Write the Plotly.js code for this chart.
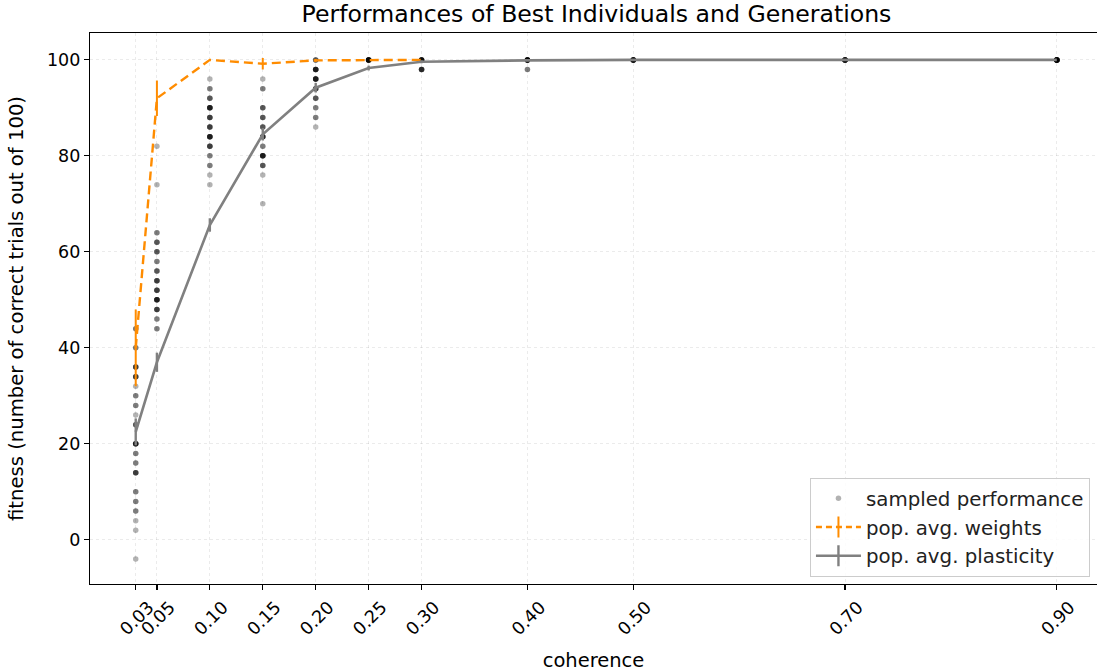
<!DOCTYPE html>
<html>
<head>
<meta charset="utf-8">
<script src="https://cdn.plot.ly/plotly-3.0.1.min.js"></script>
<style>html,body{margin:0;padding:0;background:#fff;}#chart{width:1097px;height:672px;}</style>
</head>
<body>
<div id="chart"></div>
<script>
// ---- data ----
const coherence = [0.03, 0.05, 0.10, 0.15, 0.20, 0.25, 0.30, 0.40, 0.50, 0.70, 0.90];
const tickLabels = ['0.03', '0.05', '0.10', '0.15', '0.20', '0.25', '0.30', '0.40', '0.50', '0.70', '0.90'];
const plasticityMean = [22.5, 37, 65.6, 84.5, 94.2, 98.3, 99.6, 99.9, 100, 100, 100];
const plasticityErr = [2.8, 2.0, 1.4, 1.3, 1.0, 0.5, 0.3, 0.1, 0, 0, 0];
const weightsCoherence = [0.03, 0.05, 0.10, 0.15, 0.20, 0.25, 0.30];
const weightsMean = [40, 92, 100, 99.2, 99.9, 100, 100];
const weightsErr = [8, 3.7, 0, 1.2, 0.3, 0, 0];
// sampled performances: coherence, fitness, number of individuals with that value
const sampleCoherence = [
  0.03,0.03,0.03,0.03,0.03,0.03,0.03,0.03,0.03,0.03,0.03,0.03,0.03,0.03,0.03,0.03,0.03,0.03,0.03,
  0.05,0.05,0.05,0.05,0.05,0.05,0.05,0.05,0.05,0.05,0.05,0.05,0.05,
  0.10,0.10,0.10,0.10,0.10,0.10,0.10,0.10,0.10,0.10,0.10,0.10,
  0.15,0.15,0.15,0.15,0.15,0.15,0.15,0.15,0.15,0.15,0.15,
  0.20,0.20,0.20,0.20,0.20,0.20,0.20,0.20,
  0.25,
  0.30,0.30,
  0.40,0.40,
  0.50,
  0.70,
  0.90
];
const sampleFitness = [
  44,40,36,34,32,30,28,26,24,20,18,16,14,10,8,6,4,2,-4,
  82,74,64,62,60,58,56,54,52,50,48,46,44,
  96,94,92,90,88,86,84,82,80,78,76,74,
  96,94,90,88,86,84,82,80,78,76,70,
  100,98,96,94,92,90,88,86,
  100,
  100,98,
  100,98,
  100,
  100,
  100
];
const sampleCount = [
  2,2,4,4,1,2,2,1,3,6,2,2,4,2,2,2,1,1,1,
  1,1,2,3,3,2,3,4,4,6,4,2,2,
  1,2,3,6,4,4,6,4,2,2,1,1,
  1,2,3,3,3,5,2,6,3,1,1,
  3,6,6,4,3,2,2,1,
  10,
  8,5,
  10,2,
  10,
  10,
  15
];

// expand the samples (overlapping translucent dots)
const sx = [], sy = [];
for (let i = 0; i < sampleFitness.length; i++) {
  for (let k = 0; k < sampleCount[i]; k++) { sx.push(sampleCoherence[i]); sy.push(sampleFitness[i]); }
}

const FONT = 'DejaVu Sans, sans-serif';
const ORANGE = '#ff8c00';
const GREY = '#808080';

const traces = [
  {
    type: 'scatter', mode: 'markers', x: sx, y: sy,
    name: 'sampled performance',
    marker: {color: 'rgba(0,0,0,0.3)', size: 5.5, line: {width: 0}},
    hoverinfo: 'x+y'
  },
  {
    type: 'scatter', mode: 'lines', x: weightsCoherence, y: weightsMean,
    name: 'pop. avg. weights', showlegend: false,
    line: {color: ORANGE, width: 2.4, dash: '9px,5px'},
    error_y: {type: 'data', array: weightsErr, visible: true, color: ORANGE, thickness: 2, width: 0}
  },
  {
    type: 'scatter', mode: 'lines', x: coherence, y: plasticityMean,
    name: 'pop. avg. plasticity', showlegend: false,
    line: {color: GREY, width: 2.6},
    error_y: {type: 'data', array: plasticityErr, visible: true, color: GREY, thickness: 2.4, width: 0}
  },
  // legend entries (line + vertical error-bar glyph)
  {
    type: 'scatter', mode: 'lines+markers', x: [null], y: [null],
    name: 'pop. avg. weights',
    line: {color: ORANGE, width: 2.4, dash: '6px,4px'},
    marker: {symbol: 'line-ns-open', size: 15, color: ORANGE, line: {color: ORANGE, width: 2}}
  },
  {
    type: 'scatter', mode: 'lines+markers', x: [null], y: [null],
    name: 'pop. avg. plasticity',
    line: {color: GREY, width: 2.6},
    marker: {symbol: 'line-ns-open', size: 15, color: GREY, line: {color: GREY, width: 2.4}}
  }
];

const axisCommon = {
  showline: true, mirror: true, linecolor: '#000', linewidth: 1.2,
  ticks: 'outside', ticklen: 5, tickwidth: 1.2, tickcolor: '#000',
  showgrid: true, gridcolor: 'rgba(0,0,0,0.08)', griddash: 'dot', gridwidth: 1,
  zeroline: false,
  tickfont: {family: FONT, size: 17.5, color: '#000'}
};

const layout = {
  width: 1097, height: 672,
  margin: {l: 90, r: 0, t: 33, b: 88, pad: 0},
  paper_bgcolor: '#fff', plot_bgcolor: '#fff',
  font: {family: FONT, color: '#000'},
  title: {
    text: 'Performances of Best Individuals and Generations',
    font: {family: FONT, size: 23.6, color: '#000'},
    xref: 'paper', x: 0.503, xanchor: 'center',
    yref: 'container', y: 1 - 14 / 672, yanchor: 'middle'
  },
  xaxis: Object.assign({}, axisCommon, {
    range: [-0.0132, 0.938],
    tickmode: 'array', tickvals: coherence, ticktext: tickLabels,
    tickangle: -45, ticklabelshift: 13,
    title: {text: 'coherence', font: {family: FONT, size: 19.5, color: '#000'}, standoff: 17}
  }),
  yaxis: Object.assign({}, axisCommon, {
    range: [-9.2, 105.6],
    tickmode: 'array', tickvals: [0, 20, 40, 60, 80, 100], ticktext: ['0', '20', '40', '60', '80', '100'],
    title: {text: 'fitness (number of correct trials out of 100)', font: {family: FONT, size: 19.6, color: '#000'}, standoff: 18}
  }),
  legend: {
    x: 0.993, xanchor: 'right', y: 0.013, yanchor: 'bottom',
    bgcolor: 'rgba(255,255,255,0.85)', bordercolor: '#cccccc', borderwidth: 1,
    font: {family: FONT, size: 19.8, color: '#222'},
    itemwidth: 45, tracegroupgap: 0
  },
  showlegend: true
};

Plotly.newPlot('chart', traces, layout, {displayModeBar: false, staticPlot: true});
</script>
</body>
</html>
